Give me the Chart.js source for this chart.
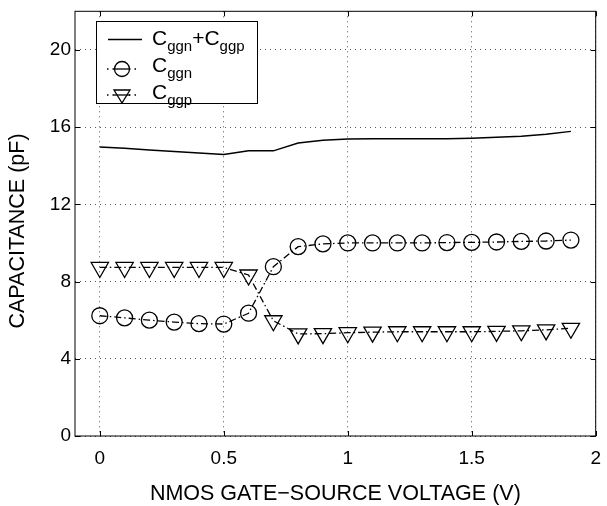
<!DOCTYPE html>
<html>
<head>
<meta charset="utf-8">
<script src="https://cdn.jsdelivr.net/npm/chart.js@4.4.1/dist/chart.umd.min.js"></script>
<style>
  html, body { margin: 0; padding: 0; background: #fff; }
  #wrap { width: 607px; height: 506px; position: relative; }
</style>
</head>
<body>
<div id="wrap"><canvas id="capChart"></canvas></div>
<script>
// Dados
const tensoes = [0, 0.1, 0.2, 0.3, 0.4, 0.5, 0.6, 0.7, 0.8, 0.9, 1.0, 1.1, 1.2, 1.3, 1.4, 1.5, 1.6, 1.7, 1.8, 1.9];
const cTotal = [14.97, 14.9, 14.82, 14.74, 14.66, 14.58, 14.77, 14.77, 15.18, 15.32, 15.38, 15.4, 15.4, 15.4, 15.4, 15.43, 15.47, 15.53, 15.63, 15.78];
const cGgn  = [6.23, 6.12, 6.0, 5.9, 5.82, 5.8, 6.36, 8.77, 9.81, 9.95, 10.0, 10.0, 10.0, 10.0, 10.02, 10.03, 10.05, 10.08, 10.1, 10.15];
const cGgp  = [8.73, 8.73, 8.73, 8.73, 8.73, 8.73, 8.34, 5.97, 5.29, 5.3, 5.35, 5.38, 5.4, 5.4, 5.4, 5.4, 5.42, 5.45, 5.5, 5.58];
const ticksX = [0, 0.5, 1, 1.5, 2];
const ticksY = [0, 4, 8, 12, 16, 20];
const tituloX = 'NMOS GATE\u2212SOURCE VOLTAGE (V)';
const tituloY = 'CAPACITANCE (pF)';

const FONTE = '"Liberation Sans", Arial, Helvetica, sans-serif';

function pontos(ys) {
    return tensoes.map((x, i) => ({ x: x, y: ys[i] }));
}

// Caixa, marcas internas, títulos e legenda estilo MATLAB
const estiloMatlab = {
    id: 'estiloMatlab',
    afterDraw(chart) {
        const { ctx, chartArea: a, scales } = chart;
        ctx.save();
        ctx.strokeStyle = '#000';
        ctx.lineWidth = 1;
        ctx.setLineDash([]);
        ctx.strokeRect(a.left, a.top, a.right - a.left, a.bottom - a.top);

        const tam = 5;
        ctx.beginPath();
        ticksX.forEach(v => {
            const px = Math.round(scales.x.getPixelForValue(v)) + 0.5;
            ctx.moveTo(px, a.bottom); ctx.lineTo(px, a.bottom - tam);
            ctx.moveTo(px, a.top); ctx.lineTo(px, a.top + tam);
        });
        ticksY.forEach(v => {
            const py = Math.round(scales.y.getPixelForValue(v)) + 0.5;
            ctx.moveTo(a.left, py); ctx.lineTo(a.left + tam, py);
            ctx.moveTo(a.right, py); ctx.lineTo(a.right - tam, py);
        });
        ctx.stroke();

        // Títulos dos eixos
        ctx.fillStyle = '#000';
        ctx.font = '21.5px ' + FONTE;
        ctx.textAlign = 'center';
        ctx.textBaseline = 'alphabetic';
        ctx.fillText(tituloX, (a.left + a.right) / 2, 499.5);
        ctx.save();
        ctx.translate(24, 231);
        ctx.rotate(-Math.PI / 2);
        ctx.fillText(tituloY, 0, 0);
        ctx.restore();
        ctx.textAlign = 'left';

        // Legenda
        const bx = 96.5, by = 21.5, bw = 161, bh = 82;
        ctx.fillStyle = '#fff';
        ctx.fillRect(bx, by, bw, bh);
        ctx.strokeRect(bx, by, bw, bh);

        const entradas = [
            { y: 39.5, base: 45, tipo: 'linha', partes: [['C', 'ggn'], ['+C', 'ggp']] },
            { y: 69, base: 72, tipo: 'circulo', partes: [['C', 'ggn']] },
            { y: 95, base: 99, tipo: 'triangulo', partes: [['C', 'ggp']] }
        ];
        entradas.forEach(e => {
            ctx.strokeStyle = '#000';
            ctx.lineWidth = 1.3;
            if (e.tipo === 'linha') {
                ctx.beginPath();
                ctx.moveTo(108, e.y); ctx.lineTo(142, e.y);
                ctx.stroke();
            } else {
                ctx.setLineDash([1.5, 4]);
                ctx.beginPath();
                ctx.moveTo(107, e.y); ctx.lineTo(138, e.y);
                ctx.stroke();
                ctx.setLineDash([]);
                ctx.fillStyle = '#fff';
                if (e.tipo === 'circulo') {
                    ctx.beginPath();
                    ctx.arc(122, e.y, 7.5, 0, Math.PI * 2);
                    ctx.fill(); ctx.stroke();
                    ctx.beginPath();
                    ctx.moveTo(115, e.y); ctx.lineTo(129, e.y);
                    ctx.stroke();
                } else {
                    ctx.beginPath();
                    ctx.moveTo(114, e.y - 5);
                    ctx.lineTo(130, e.y - 5);
                    ctx.lineTo(122, e.y + 8);
                    ctx.closePath();
                    ctx.fill(); ctx.stroke();
                    ctx.beginPath();
                    ctx.moveTo(114, e.y); ctx.lineTo(130, e.y);
                    ctx.stroke();
                }
            }
            ctx.fillStyle = '#000';
            let x = 152;
            e.partes.forEach(([base, sub]) => {
                ctx.font = '21px ' + FONTE;
                ctx.fillText(base, x, e.base);
                x += ctx.measureText(base).width;
                ctx.font = '15px ' + FONTE;
                ctx.fillText(sub, x, e.base + 6);
                x += ctx.measureText(sub).width;
            });
        });
        ctx.restore();
    }
};

const serieMarcador = (rotulo, dados, estilo, raio, rot) => ({
    label: rotulo,
    data: pontos(dados),
    borderColor: '#000',
    borderWidth: 1.3,
    borderDash: [7, 3, 1.5, 3],
    pointStyle: estilo,
    pointRadius: raio,
    pointRotation: rot,
    pointBorderWidth: 1.3,
    pointBorderColor: '#000',
    pointBackgroundColor: 'rgba(0,0,0,0)',
    tension: 0,
    fill: false
});

const semPadding = s => {
    s.paddingTop = 0; s.paddingBottom = 0;
    s.paddingLeft = 0; s.paddingRight = 0;
};

new Chart(document.getElementById('capChart'), {
    type: 'line',
    data: {
        datasets: [
            {
                label: 'Cggn+Cggp',
                data: pontos(cTotal),
                borderColor: '#000',
                borderWidth: 1.5,
                pointRadius: 0,
                tension: 0,
                fill: false
            },
            serieMarcador('Cggn', cGgn, 'circle', 8, 0),
            serieMarcador('Cggp', cGgp, 'triangle', 10, 180)
        ]
    },
    options: {
        responsive: true,
        maintainAspectRatio: false,
        animation: false,
        layout: { padding: { left: 0, right: 4, top: 4, bottom: 0 } },
        plugins: {
            legend: { display: false },
            tooltip: { enabled: false }
        },
        scales: {
            x: {
                type: 'linear',
                min: -0.1,
                max: 2,
                afterBuildTicks: s => { s.ticks = ticksX.map(v => ({ value: v })); },
                afterFit: s => { s.height = 70; semPadding(s); },
                grid: { color: '#555', lineWidth: 1, drawTicks: false },
                border: { display: false, dash: [1, 4] },
                ticks: {
                    color: '#000',
                    padding: 11,
                    maxRotation: 0,
                    font: { family: FONTE, size: 19 },
                    callback: v => String(v)
                }
            },
            y: {
                type: 'linear',
                min: 0,
                max: 22,
                afterBuildTicks: s => { s.ticks = ticksY.map(v => ({ value: v })); },
                afterFit: s => { s.width = 75; semPadding(s); },
                grid: { color: '#555', lineWidth: 1, drawTicks: false },
                border: { display: false, dash: [1, 4] },
                ticks: {
                    color: '#000',
                    padding: 4,
                    font: { family: FONTE, size: 19 }
                }
            }
        }
    },
    plugins: [estiloMatlab]
});
</script>
</body>
</html>
